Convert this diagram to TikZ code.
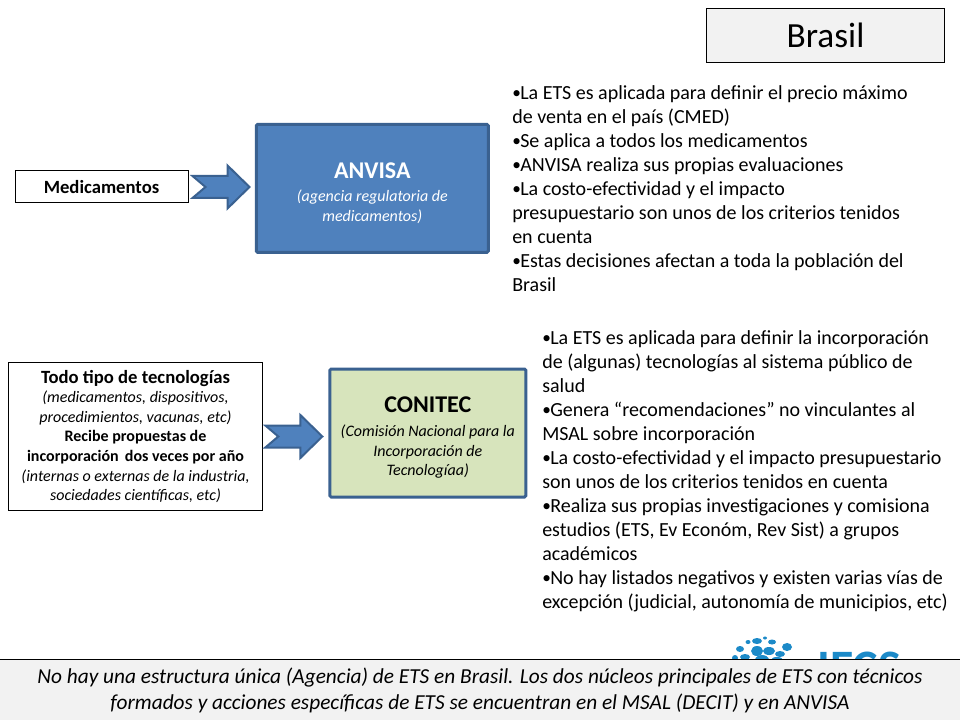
\documentclass[tikz,border=0pt]{standalone}
\usepackage{fontspec}
\setmainfont{Carlito}
\usetikzlibrary{positioning}
\definecolor{anvisablue}{HTML}{4F81BD}
\definecolor{edgeblue}{HTML}{3A6190}
\definecolor{conitecgreen}{HTML}{D7E4BC}
\definecolor{panelgray}{HTML}{F2F2F2}
\definecolor{logoblue}{HTML}{1C8AC8}
\tikzset{
  plainbox/.style={draw=black, fill=white, line width=0.75pt, inner sep=0pt, align=center},
  graybox/.style={plainbox, fill=panelgray},
  agencybox/.style={draw=edgeblue, line width=2.2pt, rounded corners=1pt, inner sep=0pt, align=center, font=\fontsize{12pt}{14.7pt}\selectfont},
  bullets/.style={inner sep=0pt, align=left, anchor=north west, font=\fontsize{15pt}{18pt}\selectfont},
  blockarrow/.style={draw=edgeblue, fill=anvisablue, line width=1.5pt, line join=miter},
  logodot/.style={fill=logoblue, draw=none},
}
\newcommand{\subline}[1]{{\fontsize{12pt}{14.7pt}\selectfont\itshape #1}}
\newcommand{\subbold}[1]{{\fontsize{12pt}{14.7pt}\selectfont\bfseries #1}}
\newcommand{\agencyname}[1]{{\fontsize{18pt}{22pt}\selectfont\bfseries\rule{0pt}{19pt}#1}}
\newcommand{\bul}{\makebox[6pt][l]{\fontsize{13pt}{13pt}\selectfont\raisebox{0.4pt}{•}}}
\begin{document}
\begin{tikzpicture}[x=0.75pt, y=-0.75pt]
  \useasboundingbox (0,0) rectangle (960,720);

  % logo, cut off by the panel
  \foreach \x/\y/\a/\b in {757/641/5/3, 765/638/2/1.5, 772/642/4/2.5, 748/642/2.5/2,
      740/649/4/3, 757/651/6/5, 769/651/6/4, 787/647/5/4, 780/654/5/3, 745/657/5/3,
      762/660/7/5, 735/658/3/3, 777/660/6/3} {
    \fill[logodot] (\x,\y) ellipse ({\a*0.75pt} and {\b*0.75pt});
  }
  \node[anchor=base west, inner sep=0pt, text=logoblue, font=\fontsize{36pt}{36pt}\selectfont\bfseries] (logo) at (817,683) {IECS};

  \node[graybox, minimum width=179pt, minimum height=41pt, font=\fontsize{26.5pt}{30pt}\selectfont] (brasil) at (825.5,35.5) {Brasil};

  \node[plainbox, minimum width=129.75pt, minimum height=24pt, font=\fontsize{14pt}{15pt}\selectfont\bfseries] (med) at (101.5,187) {Medicamentos};
  \node[agencybox, fill=anvisablue, text=white, minimum width=174pt, minimum height=96pt, right=49.75pt of med, yshift=-1pt] (anvisa) {%
    \agencyname{ANVISA}\\[3pt]
    \subline{(agencia regulatoria de}\\
    \subline{medicamentos)}};

  \node[plainbox, minimum width=191pt, minimum height=111.5pt, font=\fontsize{14pt}{14.7pt}\selectfont] (todo) at (135.5,436.5) {%
    \textbf{Todo tipo de tecnologías}\\
    \subline{(medicamentos, dispositivos,}\\
    \subline{procedimientos, vacunas, etc)}\\
    \subbold{Recibe propuestas de}\\
    \subbold{incorporación\, dos veces por año}\\
    \subline{(internas o externas de la industria,}\\
    \subline{sociedades científicas, etc)}};
  \node[agencybox, fill=conitecgreen, minimum width=147pt, minimum height=96pt, right=48.75pt of todo, yshift=2.6pt] (conitec) {%
    \agencyname{CONITEC}\\[3pt]
    \subline{(Comisión Nacional para la}\\
    \subline{Incorporación de}\\
    \subline{Tecnologíaa)}};

  % block arrows between the boxes
  \coordinate[right=3pt of med.east] (a1);
  \coordinate[right=1.5pt of todo.east] (a2);
  \draw[blockarrow, shift={(a1)}] (0,-11) -- (35,-11) -- (35,-21.5) -- (57,0) -- (35,21.5) -- (35,11) -- (0,11) -- (13,0) -- cycle;
  \draw[blockarrow, shift={(a2)}] (0,-11) -- (35,-11) -- (35,-21.5) -- (57,0) -- (35,21.5) -- (35,11) -- (0,11) -- (13,0) -- cycle;

  \node[bullets] (anvisanotes) at (512,85) {%
    \bul La ETS es aplicada para definir el precio máximo\\
    de venta en el país (CMED)\\
    \bul Se aplica a todos los medicamentos\\
    \bul ANVISA realiza sus propias evaluaciones\\
    \bul La costo-efectividad y el impacto\\
    presupuestario son unos de los criterios tenidos\\
    en cuenta\\
    \bul Estas decisiones afectan a toda la población del\\
    Brasil};

  \node[bullets] (conitecnotes) at (542,330) {%
    \bul La ETS es aplicada para definir la incorporación\\
    de (algunas) tecnologías al sistema público de\\
    salud\\
    \bul Genera “recomendaciones” no vinculantes al\\
    MSAL sobre incorporación\\
    \bul La costo-efectividad y el impacto presupuestario\\
    son unos de los criterios tenidos en cuenta\\
    \bul Realiza sus propias investigaciones y comisiona\\
    estudios (ETS, Ev Económ, Rev Sist) a grupos\\
    académicos\\
    \bul No hay listados negativos y existen varias vías de\\
    excepción (judicial, autonomía de municipios, etc)};

  \fill[panelgray] (0,659) rectangle (960,720);
  \draw[black, line width=0.75pt] (0,659) -- (960,659);
  \node[inner sep=0pt, align=center, font=\fontsize{16pt}{19.5pt}\selectfont\itshape] (summary) at (480,690) {%
    No hay una estructura única (Agencia) de ETS en Brasil. Los dos núcleos principales de ETS con técnicos\\
    formados y acciones específicas de ETS se encuentran en el MSAL (DECIT) y en ANVISA};
\end{tikzpicture}
\end{document}
